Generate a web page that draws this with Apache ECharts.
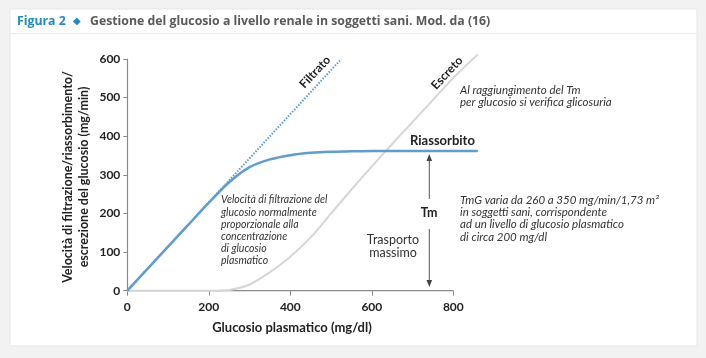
<!DOCTYPE html>
<html><head><meta charset="utf-8">
<script src="https://cdn.jsdelivr.net/npm/echarts@6/dist/echarts.min.js"></script>
<style>html,body{margin:0;padding:0;background:#f2f2f2}#c{width:706px;height:358px}</style>
</head><body><div id="c"></div>
<script>
// ---- data ----
const xTicks = [0, 200, 400, 600, 800];
const yTicks = [0, 100, 200, 300, 400, 500, 600];
const filtratoX = [0, 525];
const filtratoY = [0, 600];
const riassX = [0, 50, 100, 150, 200, 250, 300, 350, 400, 450, 500, 550, 600, 650, 700, 750, 800, 860];
const riassY = [0, 57, 114, 171, 228, 281, 320, 340, 351, 357, 360, 361, 362, 362, 362, 362, 362, 362];
const escretoX = [0, 50, 100, 150, 200, 250, 300, 350, 400, 450, 500, 550, 600, 650, 700, 750, 800, 860];
const escretoY = [0, 0, 0, 0, 0, 2, 16, 48, 88, 138, 200, 262, 322, 380, 437, 494, 551, 612];

const zip = (a, b) => a.map((v, i) => [v, b[i]]);
const BLUE = '#5f9bd6';
const AX = '#8a8a8a';
const F = 'Lato, "Open Sans", sans-serif';

const chart = echarts.init(document.getElementById('c'), null, {renderer: 'canvas'});
const deg = Math.PI / 180;
const option = {
  backgroundColor: '#f2f2f2',
  animation: false,
  grid: {left: 127.3, right: 228.2, top: 59, bottom: 67.3},
  xAxis: {
    type: 'value', min: 0, max: 860,
    axisLine: {show: false},
    axisTick: {show: true, length: 5, lineStyle: {color: AX}, customValues: xTicks},
    splitLine: {show: false},
    axisLabel: {color: '#222', fontFamily: F, fontWeight: 'bold', fontSize: 12, margin: 10,
      customValues: xTicks},
  },
  yAxis: {
    type: 'value', min: 0, max: 600, interval: 100,
    axisLine: {show: true, lineStyle: {color: AX, width: 1.2}},
    axisTick: {show: true, length: 4, lineStyle: {color: AX}},
    splitLine: {show: false},
    axisLabel: {color: '#222', fontFamily: F, fontWeight: 'bold', fontSize: 12, margin: 7},
  },
  series: [
    {name: 'Escreto', type: 'line', data: zip(escretoX, escretoY), smooth: 0.25,
      symbol: 'none', clip: false, lineStyle: {color: '#d6d6d6', width: 2}, z: 2},
    {name: 'Filtrato', type: 'line', data: zip(filtratoX, filtratoY), symbol: 'none', clip: false,
      lineStyle: {color: BLUE, width: 2, type: [1.5, 1.5]}, z: 3},
    {name: 'Riassorbito', type: 'line', data: zip(riassX, riassY), smooth: 0.3,
      symbol: 'none', clip: false, lineStyle: {color: BLUE, width: 2.5}, z: 4},
  ],
  graphic: [
    // frame
    {type: 'rect', shape: {x: 10, y: 9, width: 687, height: 337}, style: {fill: '#ffffff', stroke: '#e6e6e6', lineWidth: 1}, z: -10},
    {type: 'line', shape: {x1: 10, y1: 33.5, x2: 697, y2: 33.5}, style: {stroke: '#ececec', lineWidth: 1}, z: -9},
    // x axis line (0..800)
    {type: 'line', shape: {x1: 127.3, y1: 290.7, x2: 453.3, y2: 290.7}, style: {stroke: AX, lineWidth: 1.2}, z: 1},
    // title
    {type: 'text', x: 17, y: 21, style: {text: 'Figura 2', fill: '#1e8bc8', font: 'bold 12.3px "Open Sans", sans-serif', verticalAlign: 'middle'}},
    {type: 'text', x: 77, y: 21, style: {text: '◆', fill: '#1e8bc8', font: '10px ' + F, align: 'center', verticalAlign: 'middle'}},
    {type: 'text', x: 90, y: 21, style: {text: 'Gestione del glucosio a livello renale in soggetti sani. Mod. da (16)', fill: '#5a5a5a', font: 'bold 12.3px "Open Sans", sans-serif', verticalAlign: 'middle'}},
    // axis names
    {type: 'text', x: 68, y: 177, rotation: 90 * deg, style: {text: 'Velocità di filtrazione/riassorbimento/', fill: '#222', font: 'bold 12.5px ' + F, align: 'center', verticalAlign: 'middle'}},
    {type: 'text', x: 84, y: 177, rotation: 90 * deg, style: {text: 'escrezione del glucosio (mg/min)', fill: '#222', font: 'bold 12.5px ' + F, align: 'center', verticalAlign: 'middle'}},
    {type: 'text', x: 292, y: 328, style: {text: 'Glucosio plasmatico (mg/dl)', fill: '#222', font: 'bold 13px ' + F, align: 'center', verticalAlign: 'middle'}},
    // line labels
    {type: 'text', x: 315, y: 72, rotation: 47 * deg, style: {text: 'Filtrato', fill: '#222', font: 'bold 12px ' + F, align: 'center', verticalAlign: 'middle'}},
    {type: 'text', x: 447, y: 73, rotation: 47 * deg, style: {text: 'Escreto', fill: '#222', font: 'bold 12px ' + F, align: 'center', verticalAlign: 'middle'}},
    {type: 'text', x: 410, y: 141, style: {text: 'Riassorbito', fill: '#222', font: 'bold 13px ' + F, verticalAlign: 'middle'}},
    // annotations
    {type: 'text', x: 460, y: 84, style: {text: 'Al raggiungimento del Tm\nper glucosio si verifica glicosuria', fill: '#333', font: 'italic 11.5px ' + F, lineHeight: 12.5, verticalAlign: 'top'}},
    {type: 'text', x: 221, y: 194, style: {text: 'Velocità di filtrazione del\nglucosio normalmente\nproporzionale alla\nconcentrazione\ndi glucosio\nplasmatico', fill: '#333', font: 'italic 10.5px ' + F, lineHeight: 12.2, verticalAlign: 'top'}},
    {type: 'text', x: 460, y: 194, style: {text: 'TmG varia da 260 a 350 mg/min/1,73 m²\nin soggetti sani, corrispondente\nad un livello di glucosio plasmatico\ndi circa 200 mg/dl', fill: '#333', font: 'italic 11.5px ' + F, lineHeight: 12.3, verticalAlign: 'top'}},
    {type: 'text', x: 429, y: 213, style: {text: 'Tm', fill: '#222', font: 'bold 12.5px ' + F, align: 'center', verticalAlign: 'middle'}},
    {type: 'text', x: 393, y: 246, style: {text: 'Trasporto\nmassimo', fill: '#333', font: '12.5px ' + F, lineHeight: 13, align: 'center', verticalAlign: 'middle'}},
    // Tm arrow
    {type: 'line', shape: {x1: 429.3, y1: 158, x2: 429.3, y2: 199}, style: {stroke: '#555', lineWidth: 1}},
    {type: 'polygon', shape: {points: [[429.3, 154], [426.5, 161], [432.1, 161]]}, style: {fill: '#444'}},
    {type: 'line', shape: {x1: 429.3, y1: 229, x2: 429.3, y2: 283}, style: {stroke: '#555', lineWidth: 1}},
    {type: 'polygon', shape: {points: [[429.3, 287], [426.5, 280], [432.1, 280]]}, style: {fill: '#444'}},
  ]
};
chart.setOption(option);
</script>
</body></html>
